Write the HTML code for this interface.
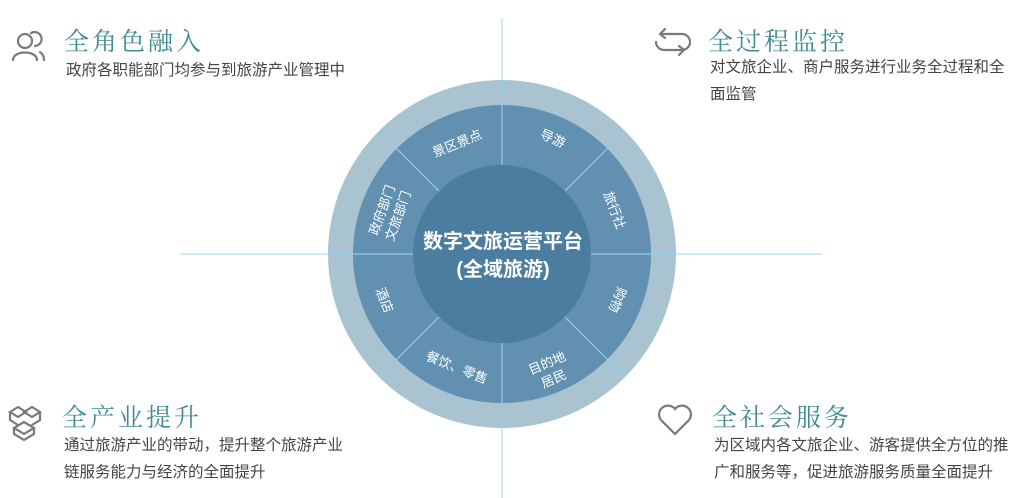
<!DOCTYPE html>
<html><head><meta charset="utf-8"><style>
html,body{margin:0;padding:0;background:#fff;}
body{width:1024px;height:498px;overflow:hidden;position:relative;font-family:"Liberation Sans","Noto Sans CJK SC",sans-serif;}
.t{position:absolute;color:#3f8b90;font-size:25px;letter-spacing:3px;font-family:"Liberation Serif","Noto Serif CJK SC",serif;white-space:nowrap;}
.b{position:absolute;color:#444;font-size:15.5px;line-height:27px;white-space:nowrap;}
</style></head><body>
<svg width="1024" height="498" style="position:absolute;left:0;top:0" font-family="Liberation Sans, Noto Sans CJK SC, sans-serif">
<line x1="180" y1="254" x2="822" y2="254" stroke="#a6d6f2" stroke-width="1"/>
<line x1="502" y1="18" x2="502" y2="498" stroke="#a6d6f2" stroke-width="1"/>
<circle cx="502" cy="254" r="174" fill="#a9c3d1"/>
<circle cx="502" cy="254" r="149" fill="#6190b1"/>
<g stroke="#8fcdf0" stroke-width="1.2">
<line x1="502" y1="80" x2="502" y2="428"/>
<line x1="328" y1="254" x2="676" y2="254"/>
<line x1="379" y1="131" x2="625" y2="377"/>
<line x1="625" y1="131" x2="379" y2="377"/>
</g>
<circle cx="502" cy="254" r="89" fill="#4a7da0"/>
<g fill="#fff" font-size="13" text-anchor="middle">
<text transform="translate(457,143) rotate(-22)" dy="5">景区景点</text>
<text transform="translate(553,138) rotate(24)" dy="5">导游</text>
<text transform="translate(615,210) rotate(69)" dy="5">旅行社</text>
<text transform="translate(618,300) rotate(112)" dy="5">购物</text>
<text transform="translate(550,370) rotate(-23)"><tspan x="0" dy="-3">目的地</tspan><tspan x="0" dy="17">居民</tspan></text>
<text transform="translate(457,367) rotate(22)" dy="5">餐饮、零售</text>
<text transform="translate(385,300) rotate(69)" dy="5">酒店</text>
<text transform="translate(390,213) rotate(-70)"><tspan x="0" dy="-4">政府部门</tspan><tspan x="0" dy="17">文旅部门</tspan></text>
</g>
<g fill="#fff" font-size="20" font-weight="bold" text-anchor="middle">
<text x="503" y="248">数字文旅运营平台</text>
<text x="503" y="276">(全域旅游)</text>
</g>
<g fill="none" stroke="#7a7a7a" stroke-width="2.2" stroke-linecap="round">
<circle cx="25" cy="41" r="7"/>
<path d="M13 60 C13 50 37 50 37 60"/>
<path d="M31 33 A7 7 0 1 1 35 46"/>
<path d="M40 52 C43 54 44 57 44 60"/>
<path d="M660 34 H682 A8 8 0 0 1 682 50 H676 M660 34 L665 29 M660 34 L665 38"/>
<path d="M676 50 H664 A8 8 0 0 1 656 42 M684 50 L679 46 M684 50 L679 55"/>
<path d="M10 412 L18 407 L26 412 L18 417 Z M24 412 L32 407 L40 412 L32 417 Z M10 412 L10 420 L18 425 M40 412 L40 420 L32 425 M14 428 L24 422 L34 428 L24 434 Z M14 428 V434 L24 440 L34 434 V428"/>
<path d="M675 434 L661 420 A8 8 0 0 1 675 409 A8 8 0 0 1 689 420 Z"/>
</g>
</svg>
<div class="t" style="left:64px;top:22px">全角色融入</div>
<div class="b" style="left:66px;top:57px">政府各职能部门均参与到旅游产业管理中</div>
<div class="t" style="left:708px;top:22px">全过程监控</div>
<div class="b" style="left:710px;top:54px">对文旅企业、商户服务进行业务全过程和全<br>面监管</div>
<div class="t" style="left:62px;top:398px">全产业提升</div>
<div class="b" style="left:64px;top:432px">通过旅游产业的带动，提升整个旅游产业<br>链服务能力与经济的全面提升</div>
<div class="t" style="left:712px;top:398px">全社会服务</div>
<div class="b" style="left:714px;top:432px">为区域内各文旅企业、游客提供全方位的推<br>广和服务等，促进旅游服务质量全面提升</div>
</body></html>
